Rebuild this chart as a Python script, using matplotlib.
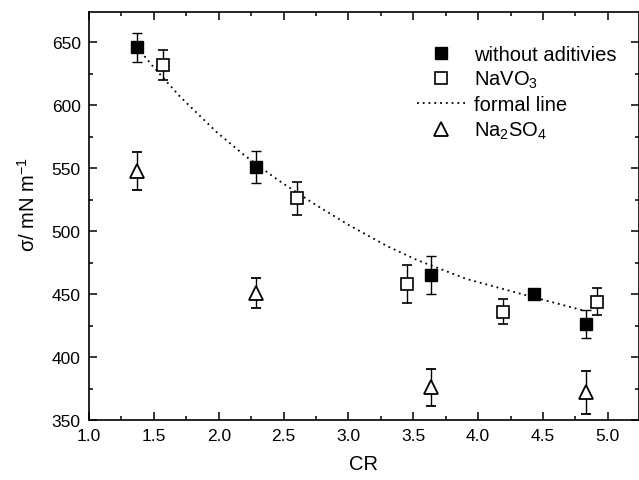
import matplotlib
matplotlib.use('Agg')
import matplotlib.pyplot as plt
from matplotlib.ticker import MultipleLocator

plt.rcParams['font.family'] = ['Liberation Sans', 'DejaVu Sans']
plt.rcParams['mathtext.fontset'] = 'custom'
plt.rcParams['mathtext.rm'] = 'Liberation Sans'
plt.rcParams['mathtext.it'] = 'Liberation Sans:italic'
plt.rcParams['mathtext.bf'] = 'Liberation Sans:bold'

# ── Data ────────────────────────────────────────────────────────────────────
# without additives (filled squares)
cr_plain = [1.37, 2.29, 3.64, 4.43, 4.83]
sig_plain = [646, 551, 465, 450, 426]
err_plain = [11.5, 12.5, 15, 0, 11]

# NaVO3 (open squares)
cr_vo3 = [1.57, 2.60, 3.45, 4.19, 4.92]
sig_vo3 = [632, 526, 458, 436, 444]
err_vo3 = [12, 13, 15, 10, 11]

# Na2SO4 (open triangles)
cr_so4 = [1.37, 2.29, 3.64, 4.83]
sig_so4 = [548, 451, 376, 372]
err_so4 = [15, 12, 14.5, 17]

# formal line (dotted)
cr_line = [1.37, 1.50, 1.70, 1.98, 2.20, 2.45, 2.73, 3.00, 3.30, 3.53, 3.91, 4.30, 4.81]
sig_line = [646, 630, 607, 579, 560, 541, 522, 505, 488, 477, 462, 451, 437]

# ── Plot ────────────────────────────────────────────────────────────────────
fig = plt.figure(figsize=(6.39, 4.81), dpi=100)
ax = fig.add_axes([89/639, 1 - 421/481, 550/639, 408/481])

ebkw = dict(ecolor='black', elinewidth=1.0, capsize=3.8, capthick=1.0, linestyle='none')

ax.errorbar(cr_plain, sig_plain, yerr=err_plain, fmt='s', ms=8.5,
            mfc='black', mec='black', mew=1.0, zorder=3, **ebkw)
ax.errorbar(cr_vo3, sig_vo3, yerr=err_vo3, fmt='s', ms=8,
            mfc='white', mec='black', mew=1.2, zorder=3, **ebkw)
ax.plot(cr_line, sig_line, color='black', linestyle=(0, (1, 2.2)), lw=1.3, zorder=2)
ax.errorbar(cr_so4, sig_so4, yerr=err_so4, fmt='^', ms=10.5,
            mfc='white', mec='black', mew=1.3, zorder=3, **ebkw)

ax.set_xlim(1.0, 5.24)
ax.set_ylim(350, 674)
ax.xaxis.set_major_locator(MultipleLocator(0.5))
ax.xaxis.set_minor_locator(MultipleLocator(0.25))
ax.yaxis.set_major_locator(MultipleLocator(50))
ax.yaxis.set_minor_locator(MultipleLocator(25))
ax.xaxis.set_major_formatter(matplotlib.ticker.FormatStrFormatter('%.1f'))

ax.tick_params(which='both', direction='in', top=True, right=True, labelsize=12.5, width=1.1)
ax.tick_params(which='major', length=5.5, pad=6)
ax.tick_params(which='minor', length=3)
for s in ax.spines.values():
    s.set_linewidth(1.2)

ax.set_xlabel('CR', fontsize=14.5, labelpad=8)
ax.set_ylabel(r'σ/ mN m$^{\mathregular{-1}}$', fontsize=14.5)
ax.yaxis.set_label_coords(-0.092, 0.53)

# legend built from proxy handles
h1, = ax.plot([], [], 's', ms=8.5, mfc='black', mec='black')
h2, = ax.plot([], [], 's', ms=8, mfc='white', mec='black', mew=1.2)
h3, = ax.plot([], [], color='black', linestyle=(0, (1, 2.2)), lw=1.3)
h4, = ax.plot([], [], '^', ms=10.5, mfc='white', mec='black', mew=1.3)
ax.legend([h1, h2, h3, h4],
          ['without aditivies', r'NaVO$_3$', 'formal line', r'Na$_2$SO$_4$'],
          loc='upper left', bbox_to_anchor=(0.596, 0.92), frameon=False,
          fontsize=14.5, handlelength=2.4, handletextpad=0.45,
          labelspacing=0.26, borderpad=0, borderaxespad=0)

plt.savefig('out.png', dpi=100)
plt.close()
